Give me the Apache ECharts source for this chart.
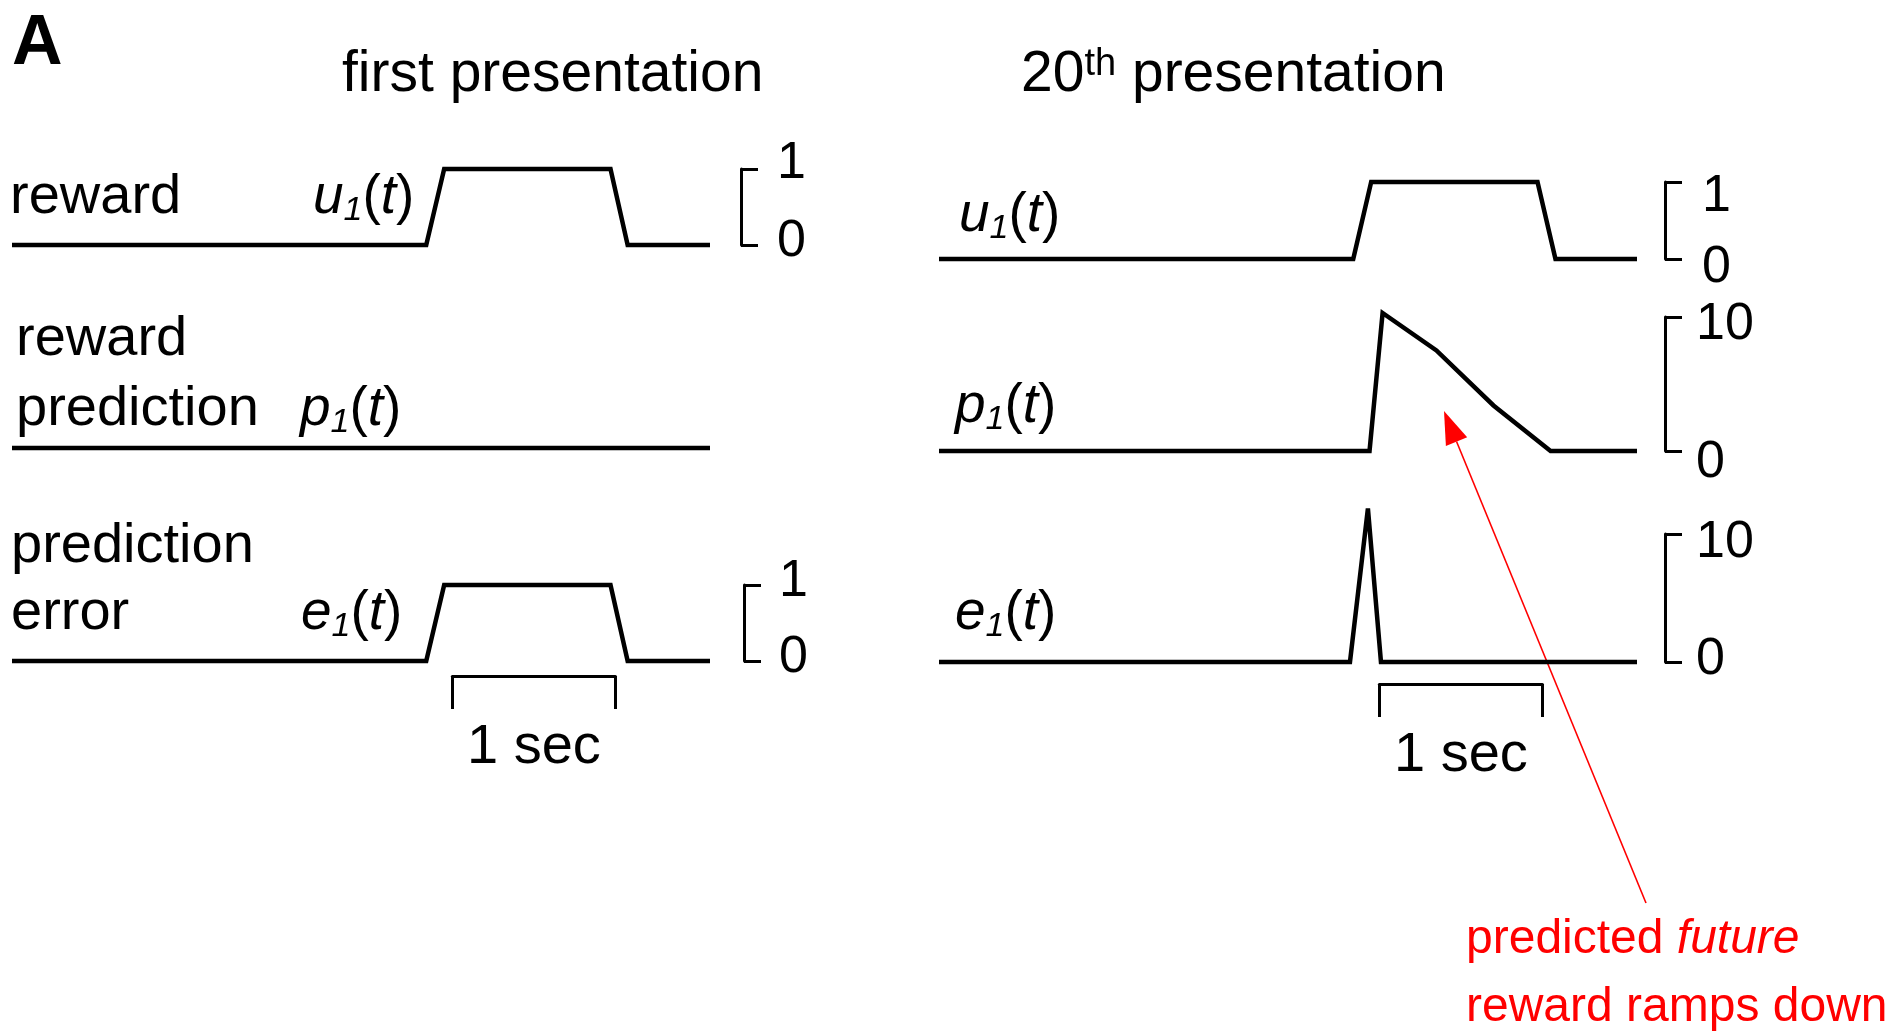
<!DOCTYPE html>
<html>
<head>
<meta charset="utf-8">
<script src="https://cdn.jsdelivr.net/npm/echarts@6/dist/echarts.min.js"></script>
<style>
  html, body { margin: 0; padding: 0; background: #fff; }
  #chart { width: 1900px; height: 1031px; }
</style>
</head>
<body>
<div id="chart"></div>
<script>
// ---- Data: time in seconds, one trace per row ----
const traceDuration = 4.28;

// first presentation
const firstRewardT = [0, 2.54, 2.65, 3.67, 3.775, 4.28];
const firstRewardV = [0, 0, 1, 1, 0, 0];
const firstPredT = [0, 4.28];
const firstPredV = [0, 0];
const firstErrT = [0, 2.54, 2.65, 3.67, 3.775, 4.28];
const firstErrV = [0, 0, 1, 1, 0, 0];

// 20th presentation
const lateRewardT = [0, 2.54, 2.65, 3.67, 3.78, 4.28];
const lateRewardV = [0, 0, 1, 1, 0, 0];
const latePredT = [0, 2.64, 2.72, 3.05, 3.40, 3.75, 4.28];
const latePredV = [0, 0, 10.3, 7.5, 3.4, 0, 0];
const lateErrT = [0, 2.52, 2.63, 2.71, 4.28];
const lateErrV = [0, 0, 12, 0, 0];

// scale bracket ranges (bottom label 0, top label = max)
const rewardScaleMax = 1;
const firstErrScaleMax = 1;
const predScaleMax = 10;
const lateErrScaleMax = 10;

// time scale bar
const scaleBarStart = 2.70;
const scaleBarLength = 1;
const scaleBarName = '1 sec';

// ---- Layout ----
const FONT = '"Liberation Sans", Arial, Helvetica, sans-serif';
const LABEL_SIZE = 56;
const MATH_SIZE = 55;
const TICK_SIZE = 52;
const TITLE_SIZE = 57;
const PANEL_LEFT = [12, 939];
const PANEL_WIDTH = 698;
const secPx = PANEL_WIDTH / traceDuration;

// topShift / botShift: vertical nudge of the bracket's end labels (px, + = down)
const rows = [
  { panel: 0, top: 169, bottom: 245, t: firstRewardT, v: firstRewardV, max: rewardScaleMax, bracketX: 741, margin: 36, topShift: -5, botShift: -3 },
  { panel: 0, top: 314, bottom: 448, t: firstPredT, v: firstPredV, max: predScaleMax, bracketX: null },
  { panel: 0, top: 585, bottom: 661, t: firstErrT, v: firstErrV, max: firstErrScaleMax, bracketX: 744, margin: 35, topShift: -3, botShift: -3 },
  { panel: 1, top: 182, bottom: 259, t: lateRewardT, v: lateRewardV, max: rewardScaleMax, bracketX: 1665, margin: 37, topShift: 15, botShift: 9 },
  { panel: 1, top: 317, bottom: 451, t: latePredT, v: latePredV, max: predScaleMax, bracketX: 1665, margin: 31, topShift: 8, botShift: 12 },
  { panel: 1, top: 534, bottom: 662, t: lateErrT, v: lateErrV, max: lateErrScaleMax, bracketX: 1665, margin: 31, topShift: 9, botShift: -2 }
];
const scaleBars = [
  { panel: 0, y: 676 },
  { panel: 1, y: 684 }
];

const grids = [], xAxes = [], yAxes = [], series = [];
const black = '#000';

function shiftPadding(d) {
  return d < 0 ? [0, 0, -2 * d, 0] : [2 * d, 0, 0, 0];
}

rows.forEach((r, i) => {
  grids.push({
    left: PANEL_LEFT[r.panel], width: PANEL_WIDTH,
    top: r.top, height: r.bottom - r.top,
    containLabel: false, outerBoundsMode: 'none'
  });
  xAxes.push({ gridIndex: i, type: 'value', min: 0, max: traceDuration, show: false });
  const gridRight = PANEL_LEFT[r.panel] + PANEL_WIDTH;
  const hasBracket = r.bracketX !== null;
  const tokenBase = { fontFamily: FONT, fontSize: TICK_SIZE, color: black };
  yAxes.push({
    gridIndex: i, type: 'value', min: 0, max: r.max, interval: r.max,
    show: hasBracket,
    position: 'right',
    offset: hasBracket ? r.bracketX - gridRight : 0,
    axisLine: { show: true, onZero: false, lineStyle: { color: black, width: 3 } },
    axisTick: { show: true, inside: false, length: 17, lineStyle: { color: black, width: 3 } },
    axisLabel: {
      show: true, margin: r.margin || 34, color: black,
      fontFamily: FONT, fontSize: TICK_SIZE,
      formatter: (val) => (val === 0 ? '{b|' + val + '}' : '{t|' + val + '}'),
      rich: {
        t: Object.assign({ padding: shiftPadding(r.topShift || 0) }, tokenBase),
        b: Object.assign({ padding: shiftPadding(r.botShift || 0) }, tokenBase)
      }
    },
    splitLine: { show: false }
  });
  series.push({
    type: 'line', xAxisIndex: i, yAxisIndex: i,
    data: r.t.map((t, k) => [t, r.v[k]]),
    showSymbol: false, symbol: 'none', clip: false, silent: true,
    lineStyle: { color: black, width: 4.5, join: 'miter', miterLimit: 4 }
  });
});

// 1-second scale bars below the bottom traces
scaleBars.forEach((b) => {
  const gi = grids.length;
  grids.push({
    left: PANEL_LEFT[b.panel] + scaleBarStart * secPx,
    width: scaleBarLength * secPx,
    top: b.y - 10, height: 10,
    containLabel: false, outerBoundsMode: 'none'
  });
  xAxes.push({
    gridIndex: gi, type: 'value', min: 0, max: scaleBarLength, interval: scaleBarLength,
    position: 'bottom',
    axisLine: { show: true, onZero: false, lineStyle: { color: black, width: 3 } },
    axisTick: { show: true, inside: false, length: 33, lineStyle: { color: black, width: 3 } },
    axisLabel: { show: false },
    splitLine: { show: false },
    name: scaleBarName, nameLocation: 'middle', nameGap: 72,
    nameTextStyle: { color: black, fontFamily: FONT, fontSize: LABEL_SIZE, verticalAlign: 'middle' }
  });
  yAxes.push({ gridIndex: gi, type: 'value', show: false, splitLine: { show: false } });
});

// ---- Text ----
function textAt(x, baseline, text, opt) {
  opt = opt || {};
  const size = opt.size || LABEL_SIZE;
  const style = {
    text: text, fill: opt.color || black, fontFamily: FONT, fontSize: size,
    fontWeight: opt.weight || 'normal', fontStyle: opt.italic ? 'italic' : 'normal',
    align: 'left', verticalAlign: 'middle'
  };
  if (opt.rich) style.rich = opt.rich;
  return { type: 'text', x: x, y: baseline - 0.3465 * size, silent: true, style: style };
}

const mathRich = {
  v: { fontFamily: FONT, fontSize: MATH_SIZE, fontStyle: 'italic', lineHeight: 60, fill: black },
  p: { fontFamily: FONT, fontSize: MATH_SIZE, lineHeight: 60, fill: black },
  s: { fontFamily: FONT, fontSize: 34, fontStyle: 'italic', lineHeight: 19, verticalAlign: 'bottom', fill: black }
};
function mathLabel(x, baseline, sym) {
  return textAt(x, baseline, '{v|' + sym + '}{s|1}{p|(}{v|t}{p|)}', { size: MATH_SIZE, rich: mathRich });
}

const titleRich = {
  n: { fontFamily: FONT, fontSize: TITLE_SIZE, lineHeight: 60, fill: black },
  sup: { fontFamily: FONT, fontSize: 38, lineHeight: 53, verticalAlign: 'top', fill: black }
};
const RED = '#ff0000';
const noteRich = {
  r: { fontFamily: FONT, fontSize: 48, lineHeight: 56, fill: RED },
  ri: { fontFamily: FONT, fontSize: 48, fontStyle: 'italic', lineHeight: 56, fill: RED }
};

// annotation arrow
const arrowTip = [1444, 411];
const arrowTail = [1646, 903];
const headLen = 33, headHalf = 11.5;
const adx = arrowTail[0] - arrowTip[0], ady = arrowTail[1] - arrowTip[1];
const alen = Math.hypot(adx, ady);
const ux = adx / alen, uy = ady / alen;
const base = [arrowTip[0] + ux * headLen, arrowTip[1] + uy * headLen];

const graphic = [
  textAt(12, 69, 'A', { size: 70, weight: 'bold' }),
  textAt(342, 95, 'first presentation', { size: TITLE_SIZE }),
  textAt(1021, 95, '{n|20}{sup|th}{n| presentation}', { size: TITLE_SIZE, rich: titleRich }),

  textAt(10, 217, 'reward'),
  mathLabel(313, 217, 'u'),
  textAt(16, 359, 'reward'),
  textAt(16, 429, 'prediction'),
  mathLabel(300, 429, 'p'),
  textAt(11, 566, 'prediction'),
  textAt(11, 633, 'error'),
  mathLabel(301, 633, 'e'),

  mathLabel(959, 235, 'u'),
  mathLabel(955, 426, 'p'),
  mathLabel(955, 633, 'e'),

  {
    type: 'line', silent: true,
    shape: { x1: base[0], y1: base[1], x2: arrowTail[0], y2: arrowTail[1] },
    style: { stroke: RED, lineWidth: 1.6 }
  },
  {
    type: 'polygon', silent: true,
    shape: { points: [
      arrowTip,
      [base[0] - uy * headHalf, base[1] + ux * headHalf],
      [base[0] + uy * headHalf, base[1] - ux * headHalf]
    ] },
    style: { fill: RED }
  },
  textAt(1466, 956, '{r|predicted }{ri|future}', { size: 48, color: RED, rich: noteRich }),
  textAt(1466, 1024, 'reward ramps down', { size: 48, color: RED })
];

const chart = echarts.init(document.getElementById('chart'), null, { renderer: 'canvas' });
chart.setOption({
  backgroundColor: '#fff',
  animation: false,
  grid: grids,
  xAxis: xAxes,
  yAxis: yAxes,
  series: series,
  graphic: graphic
});
</script>
</body>
</html>
